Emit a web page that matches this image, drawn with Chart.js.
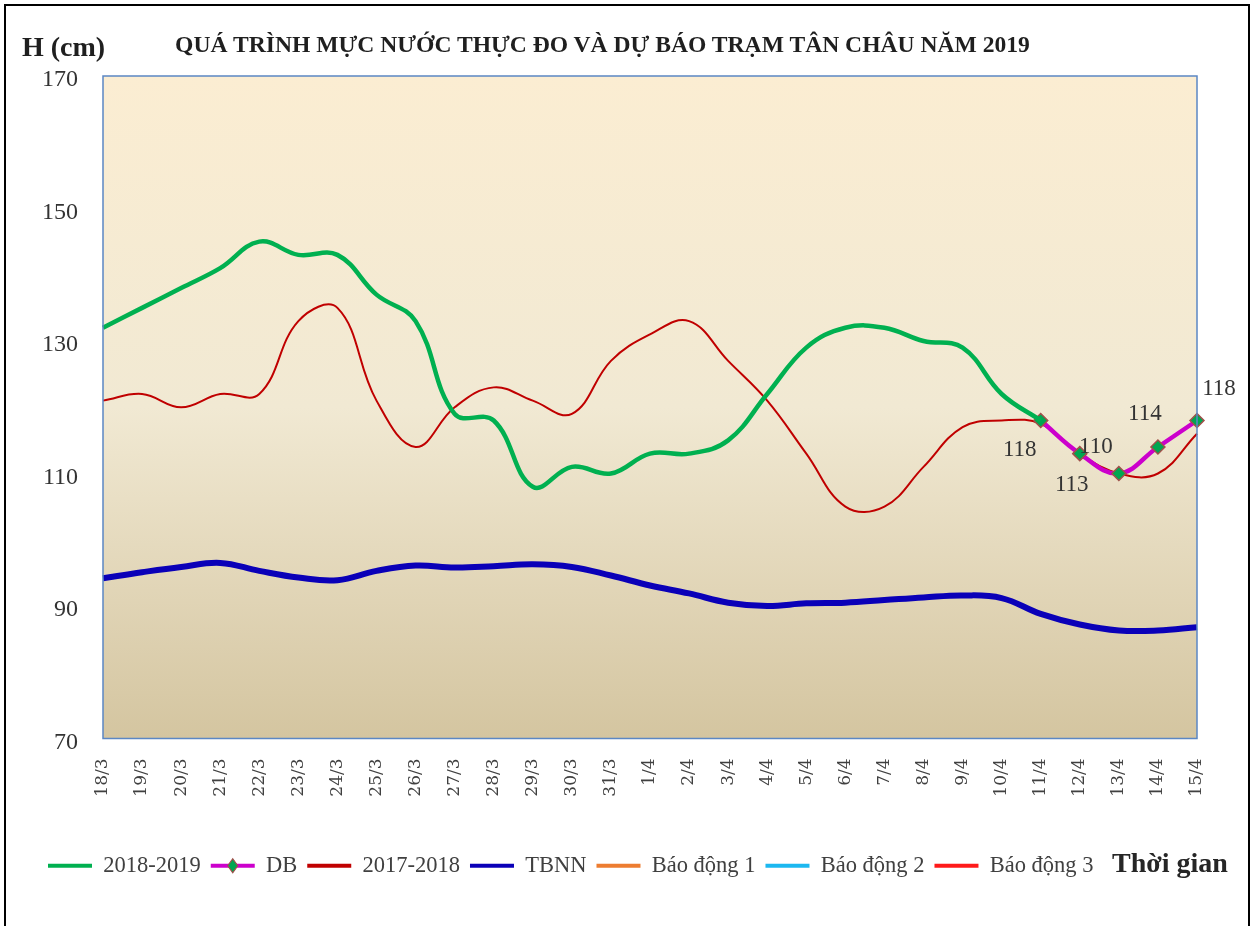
<!DOCTYPE html>
<html>
<head>
<meta charset="utf-8">
<script src="https://cdn.jsdelivr.net/npm/chart.js@4.4.1/dist/chart.umd.min.js"></script>
<style>
  html, body { margin: 0; padding: 0; background: #ffffff; }
  #wrap { position: relative; width: 1253px; height: 926px; overflow: hidden; }
  #frame { position: absolute; left: 4px; top: 4px; width: 1246px; height: 940px; border: 2px solid #000; box-sizing: border-box; pointer-events: none; }
  canvas { position: absolute; left: 0; top: 0; }
  .txt { position: absolute; font-family: "Liberation Serif", "Times New Roman", serif; color: #1f1f1f; white-space: nowrap; }
  #ylab { left: 22px; top: 31px; font-size: 28px; font-weight: bold; }
  #title { left: 0; width: 1205px; text-align: center; top: 31px; font-size: 23.6px; font-weight: bold; }
  #xlab { left: 1112px; top: 847px; font-size: 28px; font-weight: bold; color: #262626; }
</style>
</head>
<body>
<div id="wrap">
  <canvas id="c" width="1253" height="926"></canvas>
  <div id="frame"></div>
  <div class="txt" id="ylab">H (cm)</div>
  <div class="txt" id="title">QUÁ TRÌNH MỰC NƯỚC THỰC ĐO VÀ DỰ BÁO TRẠM TÂN CHÂU NĂM 2019</div>
  <div class="txt" id="xlab">Thời gian</div>
</div>
<script>
// ---- Data ----
const categories = ['18/3','19/3','20/3','21/3','22/3','23/3','24/3','25/3','26/3','27/3','28/3','29/3','30/3','31/3',
  '1/4','2/4','3/4','4/4','5/4','6/4','7/4','8/4','9/4','10/4','11/4','12/4','13/4','14/4','15/4'];
const yTickValues = [70, 90, 110, 130, 150, 170];
const series20182019 = [132, 135, 138, 141, 145, 143, 143, 137, 133, 119, 118, 108, 111, 110,
  113, 113, 115, 122, 129, 132, 132, 130, 129, 122, 118, null, null, null, null];
const seriesDB = [null, null, null, null, null, null, null, null, null, null, null, null, null, null,
  null, null, null, null, null, null, null, null, null, null, 118, 113, 110, 114, 118];
const series20172018 = [121, 122, 120, 122, 122, 133, 135, 121, 114, 120, 123, 121, 119, 127,
  131, 133, 127, 121, 113, 105, 105, 111, 117, 118, 117.5, 113, 110, 110, 116];
const seriesTBNN = [94.2, 95.1, 95.9, 96.5, 95.3, 94.3, 93.9, 95.3, 96.1, 95.8, 96.0, 96.3, 95.9, 94.6,
  93.1, 91.9, 90.5, 90.0, 90.4, 90.5, 90.9, 91.3, 91.6, 91.2, 88.8, 87.2, 86.3, 86.3, 86.8];
const seriesBaoDong1 = [];
const seriesBaoDong2 = [];
const seriesBaoDong3 = [];
const seriesNames = ['2018-2019', 'DB', '2017-2018', 'TBNN', 'Báo động 1', 'Báo động 2', 'Báo động 3'];

// ---- Plugins ----
const plotBg = {
  id: 'plotBg',
  beforeDraw(chart) {
    const {ctx, chartArea: a} = chart;
    const g = ctx.createLinearGradient(0, a.top, 0, a.bottom);
    g.addColorStop(0, '#FBEDD2');
    g.addColorStop(0.5, '#F1E9D3');
    g.addColorStop(1, '#D4C5A0');
    ctx.save();
    ctx.fillStyle = g;
    ctx.fillRect(a.left, a.top, a.right - a.left, a.bottom - a.top);
    ctx.restore();
  },
  afterDraw(chart) {
    const {ctx, chartArea: a} = chart;
    ctx.save();
    ctx.strokeStyle = '#5B87C4';
    ctx.lineWidth = 1.5;
    ctx.strokeRect(a.left, a.top, a.right - a.left, a.bottom - a.top);
    // DB legend diamond
    const lg = chart.legend;
    if (lg && lg.legendHitBoxes && lg.legendHitBoxes[1]) {
      const hb = lg.legendHitBoxes[1];
      const bw = lg.options.labels.boxWidth;
      const cx = hb.left + bw / 2, cy = hb.top + hb.height / 2;
      ctx.beginPath();
      ctx.moveTo(cx, cy - 7); ctx.lineTo(cx + 5, cy); ctx.lineTo(cx, cy + 7); ctx.lineTo(cx - 5, cy); ctx.closePath();
      ctx.fillStyle = '#00A651'; ctx.fill();
      ctx.strokeStyle = '#A0504A'; ctx.lineWidth = 1.2; ctx.stroke();
    }
    ctx.restore();
  },
  afterDatasetsDraw(chart) {
    // data labels for DB series
    const meta = chart.getDatasetMeta(1);
    const offsets = {24: [-21, 29], 25: [-8, 31], 26: [-23, -27], 27: [-13, -33], 28: [22, -32]};
    const ctx = chart.ctx;
    ctx.save();
    ctx.font = '23px "Liberation Serif", serif';
    ctx.fillStyle = '#333333';
    ctx.textAlign = 'center';
    ctx.textBaseline = 'middle';
    meta.data.forEach((pt, i) => {
      const v = seriesDB[i];
      if (v === null || !offsets[i]) return;
      ctx.fillText(String(v), pt.x + offsets[i][0], pt.y + offsets[i][1]);
    });
    ctx.restore();
  }
};

const lineBase = { pointRadius: 0, pointHoverRadius: 0, tension: 0.4, fill: false, spanGaps: false };

new Chart(document.getElementById('c'), {
  type: 'line',
  data: {
    labels: categories,
    datasets: [
      Object.assign({}, lineBase, { label: seriesNames[0], data: series20182019, borderColor: '#00B050', backgroundColor: '#00B050', borderWidth: 4.5 }),
      Object.assign({}, lineBase, { label: seriesNames[1], data: seriesDB, borderColor: '#CC00CC', backgroundColor: '#CC00CC', borderWidth: 4.5,
        pointRadius: 7, pointStyle: 'rectRot', pointBackgroundColor: '#00A651', pointBorderColor: '#A0504A', pointBorderWidth: 1.5 }),
      Object.assign({}, lineBase, { label: seriesNames[2], data: series20172018, borderColor: '#C00000', backgroundColor: '#C00000', borderWidth: 2 }),
      Object.assign({}, lineBase, { label: seriesNames[3], data: seriesTBNN, borderColor: '#0A00B8', backgroundColor: '#0A00B8', borderWidth: 6 }),
      Object.assign({}, lineBase, { label: seriesNames[4], data: seriesBaoDong1, borderColor: '#ED7D31', backgroundColor: '#ED7D31', borderWidth: 2 }),
      Object.assign({}, lineBase, { label: seriesNames[5], data: seriesBaoDong2, borderColor: '#1CB8F0', backgroundColor: '#1CB8F0', borderWidth: 2 }),
      Object.assign({}, lineBase, { label: seriesNames[6], data: seriesBaoDong3, borderColor: '#FF1A1A', backgroundColor: '#FF1A1A', borderWidth: 2 })
    ]
  },
  options: {
    responsive: false,
    animation: false,
    devicePixelRatio: 1,
    layout: { padding: { left: 38, right: 56, top: 76, bottom: 39 } },
    plugins: {
      tooltip: { enabled: false },
      title: { display: false },
      legend: {
        position: 'bottom',
        align: 'start',
        labels: {
          boxWidth: 44,
          boxHeight: 4,
          padding: 10,
          color: '#404040',
          font: { family: '"Liberation Serif", serif', size: 22.5 },
          generateLabels(chart) {
            const items = Chart.defaults.plugins.legend.labels.generateLabels(chart);
            items.forEach(it => { it.lineWidth = 0; });
            return items;
          }
        }
      }
    },
    scales: {
      x: {
        grid: { display: false, drawTicks: false },
        border: { display: false },
        ticks: {
          autoSkip: false, minRotation: 90, maxRotation: 90, padding: 20,
          color: '#404040', font: { family: '"DejaVu Serif", serif', size: 17 }
        },
        afterFit(scale) { scale.height = 106; }
      },
      y: {
        min: 70, max: 170,
        grid: { display: false, drawTicks: false },
        border: { display: false },
        afterBuildTicks(scale) { scale.ticks = yTickValues.map(v => ({ value: v })); },
        ticks: { padding: 25, labelOffset: 4, color: '#333333', font: { family: '"Liberation Serif", serif', size: 24 } },
        afterFit(scale) { scale.width = 65; }
      }
    }
  },
  plugins: [plotBg]
});
</script>
</body>
</html>
